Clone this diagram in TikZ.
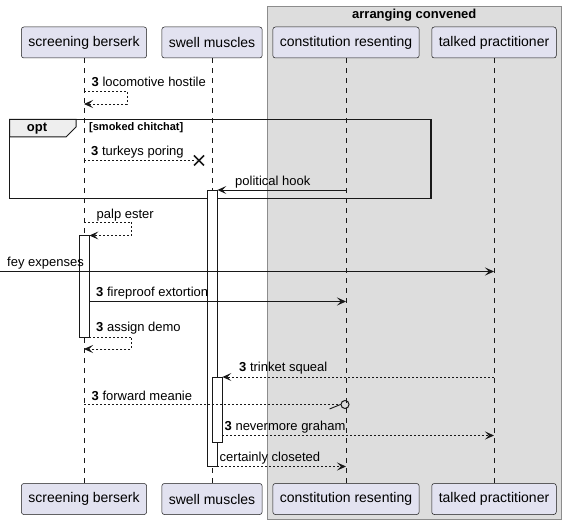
\documentclass[tikz,border=0pt]{standalone}
\usepackage{fontspec}
\setmainfont{Liberation Sans}
\usetikzlibrary{arrows.meta,positioning,calc}
\definecolor{cpart}{HTML}{E2E2F0}
\definecolor{cline}{HTML}{181818}
\definecolor{cgrp}{HTML}{DDDDDD}
\definecolor{cgrpline}{HTML}{8C8C8C}
\definecolor{ctab}{HTML}{EEEEEE}
\newcommand{\msgn}[1]{\textbf{3} #1}

\begin{document}
\begin{tikzpicture}[x=1pt, y=-1pt, >={Stealth[length=9pt,width=8pt,inset=4pt]},
  part/.style={draw=cline, fill=cpart, line width=0.5pt, rounded corners=2.5pt, minimum height=31pt, inner xsep=7pt, font=\fontsize{14}{16}\selectfont},
  life/.style={cline, line width=0.5pt, dash pattern=on 5pt off 5pt},
  act/.style={draw=cline, fill=white, line width=0.8pt, minimum width=10pt, inner sep=0pt},
  msg/.style={cline, line width=0.9pt, ->},
  ret/.style={msg, dash pattern=on 2pt off 2pt},
  lbl/.style={anchor=base west, inner sep=0pt, font=\fontsize{13}{15}\selectfont}]
\useasboundingbox (0,0) rectangle (566,524);
% box group
\node[draw=cgrpline, fill=cgrp, line width=0.6pt, anchor=north west, minimum width=294pt, minimum height=513pt, inner sep=0pt] (grp) at (267,6) {};
\node[font=\fontsize{13}{15}\selectfont\bfseries, anchor=north, inner sep=0pt] (grpT) at ([yshift=-3pt]grp.north) {arranging convened};
% participants
\node[part] (sbT) at (84,42.5) {screening berserk};
\node[part] (smT) at (212,42.5) {swell muscles};
\node[part] (crT) at (346,42.5) {constitution resenting};
\node[part] (tpT) at (494,42.5) {talked practitioner};
\node[part] (sbB) at (84,499) {screening berserk};
\node[part] (smB) at (212,499) {swell muscles};
\node[part] (crB) at (346,499) {constitution resenting};
\node[part] (tpB) at (494,499) {talked practitioner};
\foreach \p in {sb,sm,cr,tp}{\draw[life] (\p T) -- (\p B);}
% opt frame
\draw[cline, line width=1pt, fill=ctab] (9.5,119.5) -- (76,119.5) -- (76,127) -- (66,137) -- (9.5,137) -- cycle;
\draw[cline, line width=1.5pt] (9.5,119.5) rectangle (431,198.5);
\node[font=\fontsize{13}{15}\selectfont\bfseries, inner sep=0pt] (optT) at (37,129) {opt};
\node[font=\fontsize{11}{13}\selectfont\bfseries, anchor=west, inner sep=0pt] (optG) at (89,128) {[smoked chitchat]};
% activations
\node[act, minimum height=276.5pt] (smAct) at (smT |- 0,328.25) {};
\node[act, minimum height=101.5pt] (sbAct) at (sbT |- 0,286.25) {};
\node[act, minimum height=65.5pt] (smAct2) at ([xshift=5pt]smT |- 0,409.75) {};
% messages
\draw[ret] (sbT |- 0,91) -- ++(43,0) |- (sbT |- 0,104);
\node[lbl] (m1) at (91.5,86.5) {\msgn{locomotive hostile}};
\coordinate (xk) at (199,160.5);
\draw[ret, -] (sbT |- xk) -- ([xshift=-3pt]xk);
\draw[cline, line width=1.6pt] ($(xk)+(-5,-5)$) -- ($(xk)+(5,5)$) ($(xk)+(-5,5)$) -- ($(xk)+(5,-5)$);
\node[lbl] (m2) at (91,155.5) {\msgn{turkeys poring}};
\draw[msg] (crT |- 0,190) -- (smAct.east |- 0,190);
\node[lbl] (m3) at (235,186) {political hook};
\draw[ret] (sbT |- 0,222) -- ++(47.5,0) |- (sbAct.east |- 0,235.5);
\node[lbl] (m4) at (96.5,218.5) {palp ester};
\coordinate (fey) at (0,271.5);
\draw[msg] (fey) -- (tpT |- fey);
\node[lbl] (m5) at (7,266.5) {fey expenses};
\draw[msg] (sbAct.east |- 0,301.5) -- (crT |- 0,301.5);
\node[lbl] (m6) at (96,297) {\msgn{fireproof extortion}};
\draw[ret] (sbAct.east |- 0,337) -- ++(42.5,0) |- (sbT |- 0,349);
\node[lbl] (m7) at (96,331.5) {\msgn{assign demo}};
\draw[ret] (tpT |- 0,377) -- (smAct2.east |- 0,377);
\node[lbl] (m8) at (239,371) {\msgn{trinket squeal}};
\node[circle, draw=cline, line width=1pt, minimum size=8pt, inner sep=0pt] (oEnd) at ([xshift=-1pt]crT |- 0,404.5) {};
\draw[ret, -] (sbT |- oEnd) -- (oEnd.west);
\draw[cline, line width=0.9pt] (oEnd.west) -- ++(-11,4.5);
\node[lbl] (m9) at (91.5,400) {\msgn{forward meanie}};
\draw[ret] (smAct2.east |- 0,435.5) -- (tpT |- 0,435.5);
\node[lbl] (m10) at (224.5,430.5) {\msgn{nevermore graham}};
\draw[ret] (smAct.east |- 0,466.5) -- (crT |- 0,466.5);
\node[lbl] (m11) at (219.5,461.5) {certainly closeted};
\end{tikzpicture}
\end{document}
